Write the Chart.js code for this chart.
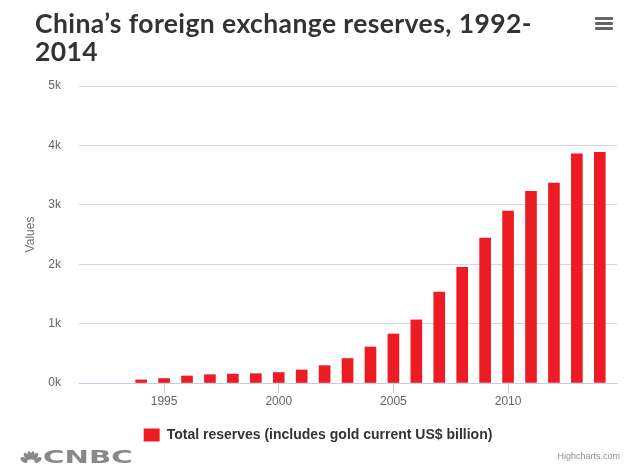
<!DOCTYPE html>
<html>
<head>
<meta charset="utf-8">
<script src="https://cdn.jsdelivr.net/npm/chart.js@4.4.1/dist/chart.umd.min.js"></script>
<style>
html,body{margin:0;padding:0;background:#fff;}
#wrap{position:relative;width:640px;height:468px;overflow:hidden;background:#fff;}
#c{position:absolute;left:0;top:0;}
#title{position:absolute;left:35px;top:9px;font-family:Lato,"Open Sans",sans-serif;font-weight:bold;font-size:26.5px;line-height:28px;letter-spacing:0.4px;color:#333;white-space:nowrap;}
#menu{position:absolute;left:595px;top:17px;width:18px;}
#menu div{height:3px;background:#666;margin-bottom:2px;border-radius:1px;}
#logo{position:absolute;left:20px;top:450px;height:16px;}
#logo .word{position:absolute;left:23px;top:-3px;font-family:"DejaVu Sans",sans-serif;font-weight:bold;font-size:17px;color:#888;transform:scaleX(1.72);transform-origin:0 0;}
#credit{position:absolute;right:20px;top:451px;font-family:"Liberation Sans",Arial,sans-serif;font-size:9px;color:#909090;}
</style>
</head>
<body>
<div id="wrap">
  <canvas id="c" width="640" height="468"></canvas>
  <div id="title">China’s foreign exchange reserves, 1992-<br>2014</div>
  <div id="menu"><div></div><div></div><div></div></div>
  <div id="logo">
    <svg width="22" height="15" viewBox="0 0 22 15" style="position:absolute;left:0;top:1px">
      <g fill="#888">
        <ellipse cx="4" cy="9" rx="2.2" ry="4" transform="rotate(-55 4 9)"/>
        <ellipse cx="6.5" cy="5.5" rx="2" ry="4" transform="rotate(-30 6.5 5.5)"/>
        <ellipse cx="9.5" cy="4.5" rx="1.8" ry="4.2" transform="rotate(-8 9.5 4.5)"/>
        <ellipse cx="12.5" cy="4.5" rx="1.8" ry="4.2" transform="rotate(8 12.5 4.5)"/>
        <ellipse cx="15.5" cy="5.5" rx="2" ry="4" transform="rotate(30 15.5 5.5)"/>
        <ellipse cx="18" cy="9" rx="2.2" ry="4" transform="rotate(55 18 9)"/>
      </g>
    </svg>
    <span class="word">CNBC</span>
  </div>
  <div id="credit">Highcharts.com</div>
</div>
<script>
const years = [1992,1993,1994,1995,1996,1997,1998,1999,2000,2001,2002,2003,2004,2005,2006,2007,2008,2009,2010,2011,2012,2013,2014];
const reserves = [null,null,52,75,118,140,150,157,176,219,292,412,606,825,1062,1532,1949,2441,2896,3227,3367,3860,3884];
const seriesName = 'Total reserves (includes gold current US$ billion)';
const yTicks = [0,1000,2000,3000,4000,5000];
const yTickLabels = ['0k','1k','2k','3k','4k','5k'];
const xTickYears = [1995,2000,2005,2010];

const labelFont = '"Liberation Sans", Arial, sans-serif';

new Chart(document.getElementById('c'), {
  type: 'bar',
  data: {
    datasets: [{
      label: seriesName,
      data: years.map((y, i) => ({x: y, y: reserves[i]})),
      backgroundColor: '#ed1c24',
      borderWidth: 0,
      barThickness: 11
    }]
  },
  options: {
    responsive: false,
    animation: false,
    devicePixelRatio: 1,
    layout: {padding: {top: 86, right: 23, bottom: 16, left: 19}},
    plugins: {
      legend: {
        position: 'bottom',
        labels: {
          boxWidth: 16, boxHeight: 13, padding: 15, color: '#333',
          font: {family: labelFont, size: 14, weight: 'bold'}
        }
      },
      tooltip: {enabled: false},
      title: {display: false}
    },
    scales: {
      x: {
        type: 'linear',
        offset: false,
        min: 1991.29,
        max: 2014.75,
        afterBuildTicks: s => { s.ticks = xTickYears.map(v => ({value: v})); },
        ticks: {
          callback: v => String(v),
          color: '#666',
          font: {family: labelFont, size: 12},
          padding: 1,
          maxRotation: 0,
          autoSkip: false
        },
        grid: {drawOnChartArea: false, drawTicks: true, tickLength: 10, color: '#c0d0e0', offset: false},
        border: {display: true, color: '#c0d0e0'},
        afterFit: s => { s.height = 30; }
      },
      y: {
        min: 0,
        max: 5000,
        afterBuildTicks: s => { s.ticks = yTicks.map(v => ({value: v})); },
        ticks: {
          callback: (v, i) => yTickLabels[yTicks.indexOf(v)],
          color: '#666',
          font: {family: labelFont, size: 12},
          padding: 18
        },
        grid: {color: '#d8d8d8', drawTicks: false},
        border: {display: false},
        title: {display: true, text: 'Values', color: '#707070', font: {family: labelFont, size: 12}, padding: {top: 4, bottom: 0}},
        afterFit: s => { s.width = 60; }
      }
    }
  }
});
</script>
</body>
</html>
